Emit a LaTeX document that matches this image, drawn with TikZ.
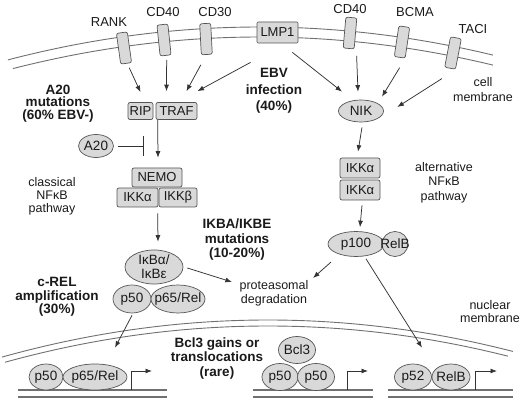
\documentclass[tikz,border=0pt]{standalone}
\usepackage{fontspec}
\setmainfont{Liberation Sans}
\usetikzlibrary{arrows.meta,calc,shapes.geometric}
\definecolor{boxgray}{HTML}{D9D9D9}
\definecolor{edgegray}{HTML}{555555}
\definecolor{linegray}{HTML}{333333}
\definecolor{membgray}{HTML}{707070}
\definecolor{txt}{HTML}{1A1A1A}
\newcommand{\mkzw}[1]{\makebox[0pt]{#1}}
\begin{document}
\begin{tikzpicture}[x=1pt,y=-1pt,
  recep/.style={rectangle,rounded corners=2pt,fill=boxgray,draw=edgegray,line width=0.7pt,minimum width=11pt,minimum height=31pt,inner sep=0pt},
  bx/.style={rectangle,rounded corners=2pt,fill=boxgray,draw=edgegray,line width=0.7pt,inner sep=0pt,font=\fontsize{13}{15}\selectfont,text=txt},
  el/.style={ellipse,fill=boxgray,draw=edgegray,line width=0.7pt,inner sep=0pt,font=\fontsize{13.5}{15}\selectfont,text=txt},
  lbl/.style={inner sep=0pt,font=\fontsize{13}{15}\selectfont,text=txt},
  blbl/.style={inner sep=0pt,align=center,text=txt},
  arr/.style={draw=linegray,line width=0.75pt,-{Latex[length=6.5pt,width=5pt]}},
  inh/.style={draw=linegray,line width=0.9pt,-{Bar[width=20pt,line width=1.2pt]}},
  memb/.style={draw=membgray,line width=0.9pt},
  dna/.style={draw=membgray,line width=1.1pt}
]
\useasboundingbox (0,0) rectangle (520,401);

% cell membrane
\draw[memb] plot[domain=8:493,samples=80,smooth] (\x,{27+((\x-260)/43.95)^2});
\draw[memb] plot[domain=13:493,samples=80,smooth] (\x,{37+((\x-260)/43.95)^2});
% nuclear membrane
\draw[memb] plot[domain=2:513,samples=80,smooth] (\x,{320+((\x-268)/43.68)^2});
\draw[memb] plot[domain=5:508,samples=80,smooth] (\x,{326+((\x-268)/43.68)^2});

% receptors
\node[recep,rotate=8] (rank) at (124,48) {};
\node[recep,rotate=6] (cdfortyA) at (164,40) {};
\node[recep,rotate=3] (cdthirty) at (206,39) {};
\node[bx,rounded corners=1pt,minimum width=41pt,minimum height=21pt] (lmp) at (277.5,32.5) {LMP1};
\node[recep,rotate=-5] (cdfortyB) at (350,33) {};
\node[recep,rotate=-8.5] (bcma) at (402,42) {};
\node[recep,rotate=-11] (taci) at (453,53) {};

\node[lbl] (lrank) at (109,22) {RANK};
\node[lbl] (lcdA) at (163,12) {CD40};
\node[lbl] (lcdthirty) at (215,12) {CD30};
\node[lbl] (lcdB) at (350,9) {CD40};
\node[lbl] (lbcma) at (415,12.5) {BCMA};
\node[lbl] (ltaci) at (473,29) {TACI};

% classical pathway
\node[bx,minimum width=25pt,minimum height=17pt] (rip) at (140.5,111) {RIP};
\node[bx,minimum width=41pt,minimum height=17pt] (traf) at (176.5,111) {TRAF};
\node[el,minimum width=35pt,minimum height=23pt] (atwenty) at (96,146) {\mkzw{A20}};
\node[bx,minimum width=50pt,minimum height=19pt] (nemo) at (157,177.5) {NEMO};
\node[bx,minimum width=41pt,minimum height=19pt] (ikka) at (137.5,197.5) {IKKα};
\node[bx,minimum width=38pt,minimum height=19pt] (ikkb) at (178,197.5) {IKKβ};
\node[el,minimum width=58pt,minimum height=34pt] (ikb) at (154,267) {};
\node[blbl,font=\fontsize{13.5}{14}\selectfont] (tikb) at (154,267) {IκBα/\\IκBε};
\node[el,minimum width=38pt,minimum height=28pt] (pfifty) at (132,299) {\mkzw{p50}};
\node[el,minimum width=54pt,minimum height=28pt] (psixtyfive) at (178,299) {\mkzw{p65/Rel}};

% alternative pathway
\node[el,minimum width=45pt,minimum height=22pt] (nik) at (361,111) {\mkzw{NIK}};
\node[bx,minimum width=40pt,minimum height=20pt] (ikkaA) at (360,168) {IKKα};
\node[bx,minimum width=40pt,minimum height=20pt] (ikkaB) at (360,190) {IKKα};
\node[el,minimum width=56pt,minimum height=25pt] (phundred) at (356,244) {\mkzw{p100}};
\node[el,minimum width=26pt,minimum height=25pt] (relbA) at (395,244) {\mkzw{RelB}};

% nucleus
\draw[dna] (18,390) -- (167,390);
\draw[dna] (18,397) -- (167,397);
\draw[dna] (253,390) -- (373,390);
\draw[dna] (253,397) -- (373,397);
\draw[dna] (388,390) -- (513,390);
\draw[dna] (388,397) -- (513,397);

\node[el,minimum width=34pt,minimum height=26pt] (npfifty) at (46,377) {\mkzw{p50}};
\node[el,minimum width=64pt,minimum height=26pt] (npsixtyfive) at (95,377) {\mkzw{p65/Rel}};
\node[el,minimum width=37pt,minimum height=27pt] (bclthree) at (297,350) {\mkzw{Bcl3}};
\node[el,minimum width=36pt,minimum height=27pt] (mpfiftyA) at (280,377) {\mkzw{p50}};
\node[el,minimum width=37pt,minimum height=27pt] (mpfiftyB) at (316,377) {\mkzw{p50}};
\node[el,minimum width=37pt,minimum height=26pt] (pfiftytwo) at (413,377) {\mkzw{p52}};
\node[el,minimum width=38pt,minimum height=26pt] (relbB) at (451,377) {\mkzw{RelB}};

\coordinate (tssA) at (131,390); \coordinate (tssAend) at (152,371);
\coordinate (tssB) at (347,390); \coordinate (tssBend) at (368,371);
\coordinate (tssC) at (475,390); \coordinate (tssCend) at (497,371);
\draw[arr,line width=0.8pt] (tssA) |- (tssAend);
\draw[arr,line width=0.8pt] (tssB) |- (tssBend);
\draw[arr,line width=0.8pt] (tssC) |- (tssCend);

% labels
\node[blbl,font=\fontsize{13.5}{12.5}\selectfont\bfseries] (la) at (58,103.5) {A20\\mutations\\(60\% EBV-)};
\node[blbl,font=\fontsize{13.5}{16.5}\selectfont\bfseries] (lebv) at (274,91) {EBV\\infection\\(40\%)};
\node[blbl,font=\fontsize{13.5}{14.5}\selectfont\bfseries] (likba) at (237,240) {IKBA/IKBE\\mutations\\(10-20\%)};
\node[blbl,font=\fontsize{13.5}{13.5}\selectfont\bfseries] (lcrel) at (57,297) {c-REL\\amplification\\(30\%)};
\node[blbl,font=\fontsize{13.5}{14.5}\selectfont\bfseries] (lbcl) at (217,358.5) {Bcl3 gains or\\translocations\\(rare)};

\node[blbl,font=\fontsize{12.5}{13}\selectfont] (lclass) at (52,196) {classical\\NFκB\\pathway};
\node[blbl,font=\fontsize{12.5}{14.5}\selectfont] (lalt) at (444,182.5) {alternative\\NFκB\\pathway};
\node[blbl,font=\fontsize{12.5}{15}\selectfont] (lcell) at (483,89.5) {cell\\membrane};
\node[blbl,font=\fontsize{12.5}{13.5}\selectfont] (lnuc) at (490,311.5) {nuclear\\membrane};
\node[blbl,font=\fontsize{12.5}{14}\selectfont] (prot) at (274,293.5) {proteasomal\\degradation};

% connectors
\draw[arr] ($(rank.south)+(3,4)$) -- ($(rip.north)+(0,-10)$);
\draw[arr] ($(cdfortyA.south)+(1,4)$) -- ($(traf.north)+(-10,-11)$);
\draw[arr] ($(cdthirty.south)+(-6,10)$) -- ($(traf.north)+(10,-11)$);
\draw[arr] ($(lmp.south west)+(-6,19)$) -- ($(traf.north)+(21,-11)$);
\draw[arr] ($(lmp.south east)+(-6,9)$) -- ($(nik.north)+(-19,-8)$);
\draw[arr] ($(cdfortyB.south)+(8,7)$) -- ($(nik.north)+(-3,-8)$);
\draw[arr] ($(bcma.south)+(0,10)$) -- ($(nik.north)+(21,-3)$);
\draw[arr] ($(taci.south)+(-8,10)$) -- ($(nik.east)+(13.5,-4)$);

\coordinate (bar) at (144,146);
\draw[inh,shorten <=4pt] (atwenty) -- (bar);
\draw[arr] ($(traf.south west)+(2,0)$) -- ($(nemo.north)+(1,-10)$);
\draw[arr] ($(ikkb.south west)+(-1,6)$) -- ($(ikb.north)+(4,-8)$);
\draw[arr] ($(ikb.east)+(4,1)$) -- ($(prot.north west)+(-7.5,1.5)$);
\draw[arr] ($(phundred.south west)+(-5,9)$) -- ($(prot.north east)+(4.5,-2.5)$);
\draw[arr] ($(pfifty.south)+(0,2)$) -- ($(npsixtyfive.north)+(20,-16)$);
\draw[arr] ($(nik.south)+(1,5)$) -- ($(ikkaA.north)+(-2,-6)$);
\draw[arr] ($(ikkaB.south)+(2,5)$) -- ($(phundred.north)+(4,-4)$);
\draw[arr] ($(phundred.south)+(10,2)$) -- ($(pfiftytwo.north)+(9,-16)$);
\end{tikzpicture}
\end{document}
